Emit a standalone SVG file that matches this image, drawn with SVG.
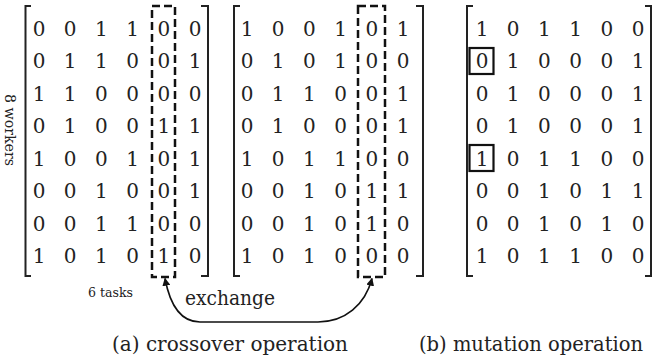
<svg xmlns="http://www.w3.org/2000/svg" width="652" height="361" viewBox="0 0 652 361">
<style>
.d{font-family:'DejaVu Serif','Liberation Serif',serif;font-size:20px;fill:#222;text-anchor:middle}
.br{fill:none;stroke:#222;stroke-width:2}
.dash{fill:none;stroke:#111;stroke-width:2.5;stroke-dasharray:8 4}
.lbl{font-family:'DejaVu Serif','Liberation Serif',serif;fill:#222}
.sel{fill:none;stroke:#111;stroke-width:2.2}
</style>
<defs>
<marker id="ah" viewBox="0 0 10 10" refX="9" refY="5" markerWidth="8" markerHeight="8" markerUnits="userSpaceOnUse" orient="auto-start-reverse">
<path d="M0,0 L10,5 L0,10 Z" fill="#111"/>
</marker>
</defs>
<rect width="652" height="361" fill="#fff"/>

<g id="matrix-a1">
<path class="br" d="M31,6 H25.5 V276 H31 M201,6 H208 V276 H201"/>
<g class="d">
<text x="39" y="35.5">0</text><text x="70.2" y="35.5">0</text><text x="101.4" y="35.5">1</text><text x="132.6" y="35.5">1</text><text x="163.8" y="35.5">0</text><text x="195" y="35.5">0</text>
<text x="39" y="68">0</text><text x="70.2" y="68">1</text><text x="101.4" y="68">1</text><text x="132.6" y="68">0</text><text x="163.8" y="68">0</text><text x="195" y="68">1</text>
<text x="39" y="100.5">1</text><text x="70.2" y="100.5">1</text><text x="101.4" y="100.5">0</text><text x="132.6" y="100.5">0</text><text x="163.8" y="100.5">0</text><text x="195" y="100.5">0</text>
<text x="39" y="133">0</text><text x="70.2" y="133">1</text><text x="101.4" y="133">0</text><text x="132.6" y="133">0</text><text x="163.8" y="133">1</text><text x="195" y="133">1</text>
<text x="39" y="165.5">1</text><text x="70.2" y="165.5">0</text><text x="101.4" y="165.5">0</text><text x="132.6" y="165.5">1</text><text x="163.8" y="165.5">0</text><text x="195" y="165.5">1</text>
<text x="39" y="198">0</text><text x="70.2" y="198">0</text><text x="101.4" y="198">1</text><text x="132.6" y="198">0</text><text x="163.8" y="198">0</text><text x="195" y="198">1</text>
<text x="39" y="230.5">0</text><text x="70.2" y="230.5">0</text><text x="101.4" y="230.5">1</text><text x="132.6" y="230.5">1</text><text x="163.8" y="230.5">0</text><text x="195" y="230.5">0</text>
<text x="39" y="263">1</text><text x="70.2" y="263">0</text><text x="101.4" y="263">1</text><text x="132.6" y="263">0</text><text x="163.8" y="263">1</text><text x="195" y="263">0</text>
</g>
<rect class="dash" x="152" y="6" width="23" height="271"/>
<text class="lbl" font-size="15" text-anchor="middle" textLength="72" lengthAdjust="spacingAndGlyphs" transform="translate(5,130) rotate(90)">8 workers</text>
<text class="lbl" font-size="13.5" x="88" y="297" textLength="45" lengthAdjust="spacingAndGlyphs">6 tasks</text>
</g>

<g id="matrix-a2">
<path class="br" d="M240,6 H234 V276 H240 M416,6 H423 V276 H416"/>
<g class="d">
<text x="247" y="35.5">1</text><text x="278.2" y="35.5">0</text><text x="309.4" y="35.5">0</text><text x="340.6" y="35.5">1</text><text x="371.8" y="35.5">0</text><text x="403" y="35.5">1</text>
<text x="247" y="68">0</text><text x="278.2" y="68">1</text><text x="309.4" y="68">0</text><text x="340.6" y="68">1</text><text x="371.8" y="68">0</text><text x="403" y="68">0</text>
<text x="247" y="100.5">0</text><text x="278.2" y="100.5">1</text><text x="309.4" y="100.5">1</text><text x="340.6" y="100.5">0</text><text x="371.8" y="100.5">0</text><text x="403" y="100.5">1</text>
<text x="247" y="133">0</text><text x="278.2" y="133">1</text><text x="309.4" y="133">0</text><text x="340.6" y="133">0</text><text x="371.8" y="133">0</text><text x="403" y="133">1</text>
<text x="247" y="165.5">1</text><text x="278.2" y="165.5">0</text><text x="309.4" y="165.5">1</text><text x="340.6" y="165.5">1</text><text x="371.8" y="165.5">0</text><text x="403" y="165.5">0</text>
<text x="247" y="198">0</text><text x="278.2" y="198">0</text><text x="309.4" y="198">1</text><text x="340.6" y="198">0</text><text x="371.8" y="198">1</text><text x="403" y="198">1</text>
<text x="247" y="230.5">0</text><text x="278.2" y="230.5">0</text><text x="309.4" y="230.5">1</text><text x="340.6" y="230.5">0</text><text x="371.8" y="230.5">1</text><text x="403" y="230.5">0</text>
<text x="247" y="263">1</text><text x="278.2" y="263">0</text><text x="309.4" y="263">1</text><text x="340.6" y="263">0</text><text x="371.8" y="263">0</text><text x="403" y="263">0</text>
</g>
<rect class="dash" x="358" y="6" width="27" height="271"/>
</g>

<g id="matrix-b">
<path class="br" d="M473,6 H467 V276 H473 M645,6 H651 V276 H645"/>
<g class="d">
<text x="482" y="35.5">1</text><text x="513.2" y="35.5">0</text><text x="544.4" y="35.5">1</text><text x="575.6" y="35.5">1</text><text x="606.8" y="35.5">0</text><text x="638" y="35.5">0</text>
<text x="482" y="68">0</text><text x="513.2" y="68">1</text><text x="544.4" y="68">0</text><text x="575.6" y="68">0</text><text x="606.8" y="68">0</text><text x="638" y="68">1</text>
<text x="482" y="100.5">0</text><text x="513.2" y="100.5">1</text><text x="544.4" y="100.5">0</text><text x="575.6" y="100.5">0</text><text x="606.8" y="100.5">0</text><text x="638" y="100.5">1</text>
<text x="482" y="133">0</text><text x="513.2" y="133">1</text><text x="544.4" y="133">0</text><text x="575.6" y="133">0</text><text x="606.8" y="133">0</text><text x="638" y="133">1</text>
<text x="482" y="165.5">1</text><text x="513.2" y="165.5">0</text><text x="544.4" y="165.5">1</text><text x="575.6" y="165.5">1</text><text x="606.8" y="165.5">0</text><text x="638" y="165.5">0</text>
<text x="482" y="198">0</text><text x="513.2" y="198">0</text><text x="544.4" y="198">1</text><text x="575.6" y="198">0</text><text x="606.8" y="198">1</text><text x="638" y="198">1</text>
<text x="482" y="230.5">0</text><text x="513.2" y="230.5">0</text><text x="544.4" y="230.5">1</text><text x="575.6" y="230.5">0</text><text x="606.8" y="230.5">1</text><text x="638" y="230.5">0</text>
<text x="482" y="263">1</text><text x="513.2" y="263">0</text><text x="544.4" y="263">1</text><text x="575.6" y="263">1</text><text x="606.8" y="263">0</text><text x="638" y="263">0</text>
</g>
<rect class="sel" x="469.5" y="48" width="24" height="26"/>
<rect class="sel" x="469.5" y="145" width="24" height="26"/>
</g>

<g id="connectors">
<path d="M165,278.5 C170,305 180,322 200,322 L318,322 C345,322 365,305 372,278.5" fill="none" stroke="#111" stroke-width="1.6" marker-start="url(#ah)" marker-end="url(#ah)"/>
<text class="lbl" font-size="20" x="185" y="305" textLength="90" lengthAdjust="spacingAndGlyphs">exchange</text>
</g>

<g id="captions">
<text class="lbl" font-size="20" x="112" y="351" textLength="236" lengthAdjust="spacingAndGlyphs">(a) crossover operation</text>
<text class="lbl" font-size="20" x="419" y="351" textLength="224" lengthAdjust="spacingAndGlyphs">(b) mutation operation</text>
</g>
</svg>
